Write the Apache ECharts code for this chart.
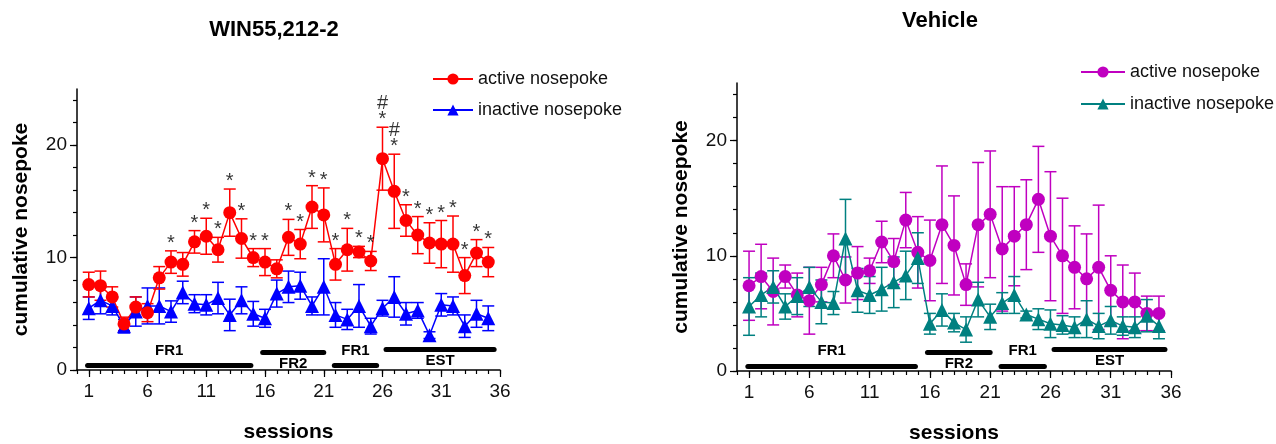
<!DOCTYPE html>
<html lang="en">
<head>
    <meta charset="UTF-8">
    <title>nosepoke</title>
    <style>
        html,body{
            margin: 0;
            height: 100%;
            background: #fff;
        }
        #main{
            width: 1276px;
            height: 444px;
        }
    </style>
</head>
<body>
<script src="https://cdn.jsdelivr.net/npm/echarts@6/dist/echarts.min.js"></script>
<div id="main"></div>
<script>
    // sessions 1..35
    var sessions = [1,2,3,4,5,6,7,8,9,10,11,12,13,14,15,16,17,18,19,20,21,22,23,24,25,26,27,28,29,30,31,32,33,34,35];
    var xTickLabels = [1,6,11,16,21,26,31,36];
    var yTickLabels = [0,10,20];

    // WIN55,212-2 group
    var winActive    = [7.6,7.5,6.5,4.1,5.6,5.1,8.2,9.6,9.4,11.4,11.9,10.7,14.0,11.7,10.0,9.6,9.0,11.8,11.2,14.5,13.8,9.4,10.7,10.5,9.7,18.8,15.9,13.3,12.0,11.3,11.2,11.2,8.4,10.4,9.6];
    var winActiveErr = [1.1,1.3,0.9,0.6,0.9,0.8,1.0,1.0,1.05,1.0,1.6,1.1,2.1,1.75,0.8,1.2,0.8,1.6,1.3,1.9,2.4,1.4,1.9,0.5,0.85,2.8,3.3,1.4,1.65,1.8,2.1,2.5,1.6,1.2,1.3];
    var winInactive    = [5.5,6.2,5.7,3.9,5.2,5.7,5.7,5.2,6.9,5.9,5.8,6.4,4.9,6.2,5.0,4.6,6.8,7.4,7.5,5.7,7.4,4.9,4.5,5.7,3.9,5.5,6.5,5.0,5.3,3.1,5.8,5.7,3.9,5.0,4.6];
    var winInactiveErr = [1.0,1.2,0.8,0.6,1.3,1.6,1.6,0.95,1.0,0.8,0.9,1.4,1.4,1.2,1.1,0.8,1.2,1.4,1.2,0.8,2.5,1.1,0.9,1.9,0.7,0.7,1.8,1.0,0.7,0.3,1.0,0.8,1.0,1.2,1.1];
    var winSig = ['','','','','','','','*','','*','*','*','*','*','*','*','','*','*','*','*','*','*','*','*','#\n*','#\n*','*','*','*','*','*','*','*','*'];

    // Vehicle group
    var vehActive    = [7.4,8.2,6.9,8.2,6.6,6.1,7.5,10.0,7.9,8.5,8.7,11.2,9.5,13.1,10.3,9.6,12.7,10.9,7.5,12.7,13.6,10.6,11.7,12.7,14.9,11.7,10.0,9.0,8.0,9.0,7.0,6.0,6.0,5.0,5.0];
    var vehActiveErr = [3.0,2.8,2.9,1.0,1.9,2.9,1.5,1.9,2.0,2.3,1.1,1.8,2.0,2.4,3.1,3.5,5.1,4.3,1.8,5.4,5.5,5.4,4.3,3.9,4.6,5.6,5.0,3.6,3.9,5.4,3.0,3.2,2.5,1.5,1.5];
    var vehInactive    = [5.6,6.6,7.3,5.6,6.5,7.3,6.0,5.9,11.5,7.0,6.6,7.1,7.7,8.3,9.8,4.1,5.3,4.2,3.6,6.2,4.7,5.9,6.6,4.9,4.5,4.1,4.0,3.8,4.5,3.9,4.4,3.9,3.8,4.8,3.9];
    var vehInactiveErr = [2.5,1.9,1.4,1.1,1.6,1.7,1.9,1.0,3.4,1.9,1.6,1.9,2.2,2.1,2.2,0.9,1.4,0.8,1.1,1.5,1.1,0.9,1.6,0.3,0.9,1.2,0.8,0.9,1.6,1.1,1.2,0.8,0.9,1.4,1.1];

    // schedule phases (session ranges)
    var phaseNames  = ['FR1','FR2','FR1','EST'];
    var phaseStart  = [0.9,15.8,21.9,26.3];
    var phaseEnd    = [14.8,21.0,25.5,35.5];

    var chart = echarts.init(document.getElementById('main'));
    var FONT = "'Liberation Sans', Arial, sans-serif";

    function makeErr(xi, yi, ys, es, color) {
        return {
            type: 'custom',
            xAxisIndex: xi,
            yAxisIndex: yi,
            silent: true,
            z: 2,
            data: sessions.map(function (s, i) { return [s, ys[i], es[i]]; }),
            renderItem: function (params, api) {
                var x = api.value(0), m = api.value(1), e = api.value(2);
                var hi = api.coord([x, m + e]);
                var lo = api.coord([x, m - e]);
                var w = 6;
                var st = {stroke: color, lineWidth: 1.5};
                return {
                    type: 'group',
                    children: [
                        {type: 'line', shape: {x1: hi[0], y1: hi[1], x2: lo[0], y2: lo[1]}, style: st},
                        {type: 'line', shape: {x1: hi[0] - w, y1: hi[1], x2: hi[0] + w, y2: hi[1]}, style: st},
                        {type: 'line', shape: {x1: lo[0] - w, y1: lo[1], x2: lo[0] + w, y2: lo[1]}, style: st}
                    ]
                };
            }
        };
    }

    function makeLine(name, xi, yi, ys, color, symbol, size) {
        return {
            type: 'line',
            name: name,
            xAxisIndex: xi,
            yAxisIndex: yi,
            data: sessions.map(function (s, i) { return [s, ys[i]]; }),
            symbol: symbol,
            symbolSize: size,
            showSymbol: true,
            color: color,
            itemStyle: {color: color},
            lineStyle: {width: 1.5, color: color},
            z: 4
        };
    }

    // phase bars as markLines; levels / label sides per phase
    function makePhases(xi, yi) {
        var levels = [0.45, 1.6, 0.45, 1.85];
        var above = [true, false, true, false];
        return {
            type: 'line',
            xAxisIndex: xi,
            yAxisIndex: yi,
            data: [],
            silent: true,
            markLine: {
                silent: true,
                symbol: ['none', 'none'],
                animation: false,
                lineStyle: {type: 'solid', color: '#000', width: 5, cap: 'round'},
                data: phaseNames.map(function (n, i) {
                    return [
                        {
                            coord: [phaseStart[i], levels[i]],
                            name: n,
                            label: {
                                show: true,
                                formatter: '{b}',
                                position: above[i] ? 'middle' : 'insideMiddleBottom',
                                distance: above[i] ? 7 : 4,
                                color: '#000',
                                fontFamily: FONT,
                                fontWeight: 'bold',
                                fontSize: 15
                            }
                        },
                        {coord: [phaseEnd[i], levels[i]]}
                    ];
                })
            }
        };
    }

    function makeSig(xi, yi, ys, es, sig) {
        var d = [];
        sessions.forEach(function (s, i) {
            if (sig[i]) d.push([s, ys[i] + es[i], sig[i]]);
        });
        return {
            type: 'scatter',
            xAxisIndex: xi,
            yAxisIndex: yi,
            silent: true,
            symbolSize: 1,
            itemStyle: {color: 'rgba(0,0,0,0)'},
            data: d,
            label: {
                show: true,
                position: 'top',
                distance: -1,
                formatter: function (p) { return p.value[2]; },
                color: '#000',
                fontFamily: FONT,
                fontSize: 20,
                lineHeight: 16
            },
            z: 5
        };
    }

    var xCats = [], yCats = [];
    for (var i = 0; i <= 36; i++) xCats.push(String(i));
    for (var j = 0; j <= 25; j++) yCats.push(String(j));

    function xAxesFor(g) {
        return [
            {   // data axis with minor ticks
                gridIndex: g, type: 'value', min: 0, max: 36, interval: 1,
                position: 'bottom', offset: 0,
                axisLine: {lineStyle: {color: '#000', width: 1.5}},
                axisTick: {length: 4, lineStyle: {color: '#000', width: 1.2}},
                axisLabel: {show: false},
                splitLine: {show: false}
            },
            {   // major ticks + labels
                gridIndex: g, type: 'category', data: xCats, boundaryGap: false,
                position: 'bottom', offset: 0,
                axisLine: {show: false},
                axisTick: {length: 7, lineStyle: {color: '#000', width: 1.2},
                    interval: function (idx) { return xTickLabels.indexOf(idx) >= 0; }},
                axisLabel: {color: '#111', fontFamily: FONT, fontSize: 19, margin: 12,
                    interval: function (idx) { return xTickLabels.indexOf(idx) >= 0; }},
                name: 'sessions', nameLocation: 'middle', nameGap: 52,
                nameTextStyle: {color: '#000', fontFamily: FONT, fontWeight: 'bold', fontSize: 21}
            }
        ];
    }

    function yAxesFor(g) {
        return [
            {   // data axis
                gridIndex: g, type: 'value', min: 0, max: 25,
                position: 'left', offset: 0,
                axisLine: {show: true, lineStyle: {color: '#000', width: 1.5}},
                axisTick: {show: false},
                axisLabel: {show: false},
                splitLine: {show: false}
            },
            {   // minor ticks every 2
                gridIndex: g, type: 'category', data: yCats, boundaryGap: false,
                position: 'left', offset: 0,
                axisLine: {show: false},
                axisTick: {length: 4, lineStyle: {color: '#000', width: 1.2},
                    interval: function (idx) { return idx % 2 === 0 && idx < 25; }},
                axisLabel: {show: false}
            },
            {   // major ticks + labels
                gridIndex: g, type: 'category', data: yCats, boundaryGap: false,
                position: 'left', offset: 0,
                axisLine: {show: false},
                axisTick: {length: 7, lineStyle: {color: '#000', width: 1.2},
                    interval: function (idx) { return yTickLabels.indexOf(idx) >= 0; }},
                axisLabel: {color: '#111', fontFamily: FONT, fontSize: 19, margin: 10,
                    interval: function (idx) { return yTickLabels.indexOf(idx) >= 0; }},
                name: 'cumulative nosepoke', nameLocation: 'middle', nameGap: 45, nameRotate: 90,
                nameTextStyle: {color: '#000', fontFamily: FONT, fontWeight: 'bold', fontSize: 21}
            }
        ];
    }

    var option = {
        backgroundColor: '#fff',
        animation: false,
        title: [
            {text: 'WIN55,212-2', left: 274, top: 19, textAlign: 'center', padding: 0,
                textStyle: {color: '#000', fontFamily: FONT, fontWeight: 'bold', fontSize: 22}},
            {text: 'Vehicle', left: 940, top: 10, textAlign: 'center', padding: 0,
                textStyle: {color: '#000', fontFamily: FONT, fontWeight: 'bold', fontSize: 22}}
        ],
        legend: [
            {
                orient: 'vertical', left: 427, top: 65, itemWidth: 40, itemHeight: 14, itemGap: 13,
                data: ['active nosepoke', 'inactive nosepoke'],
                textStyle: {color: '#111', fontFamily: FONT, fontSize: 18}
            },
            {
                orient: 'vertical', left: 1075, top: 58, itemWidth: 44, itemHeight: 14, itemGap: 14,
                data: ['active nosepoke ', 'inactive nosepoke '],
                formatter: function (n) { return n.trim(); },
                textStyle: {color: '#111', fontFamily: FONT, fontSize: 18}
            }
        ],
        grid: [
            {left: 77, top: 89, width: 423, height: 281, outerBoundsMode: 'none', containLabel: false},
            {left: 737, top: 83, width: 434, height: 288, outerBoundsMode: 'none', containLabel: false}
        ],
        xAxis: xAxesFor(0).concat(xAxesFor(1)),
        yAxis: yAxesFor(0).concat(yAxesFor(1)),
        series: [
            makePhases(0, 0),
            makeErr(0, 0, winInactive, winInactiveErr, '#0000ff'),
            makeLine('inactive nosepoke', 0, 0, winInactive, '#0000ff', 'triangle', 14),
            makeErr(0, 0, winActive, winActiveErr, '#ff0000'),
            makeLine('active nosepoke', 0, 0, winActive, '#ff0000', 'circle', 13),
            makeSig(0, 0, winActive, winActiveErr, winSig),

            makePhases(2, 3),
            makeErr(2, 3, vehActive, vehActiveErr, '#c000c0'),
            makeLine('active nosepoke ', 2, 3, vehActive, '#c000c0', 'circle', 13),
            makeErr(2, 3, vehInactive, vehInactiveErr, '#008080'),
            makeLine('inactive nosepoke ', 2, 3, vehInactive, '#008080', 'triangle', 14)
        ]
    };

    chart.setOption(option);
</script>
</body>
</html>
